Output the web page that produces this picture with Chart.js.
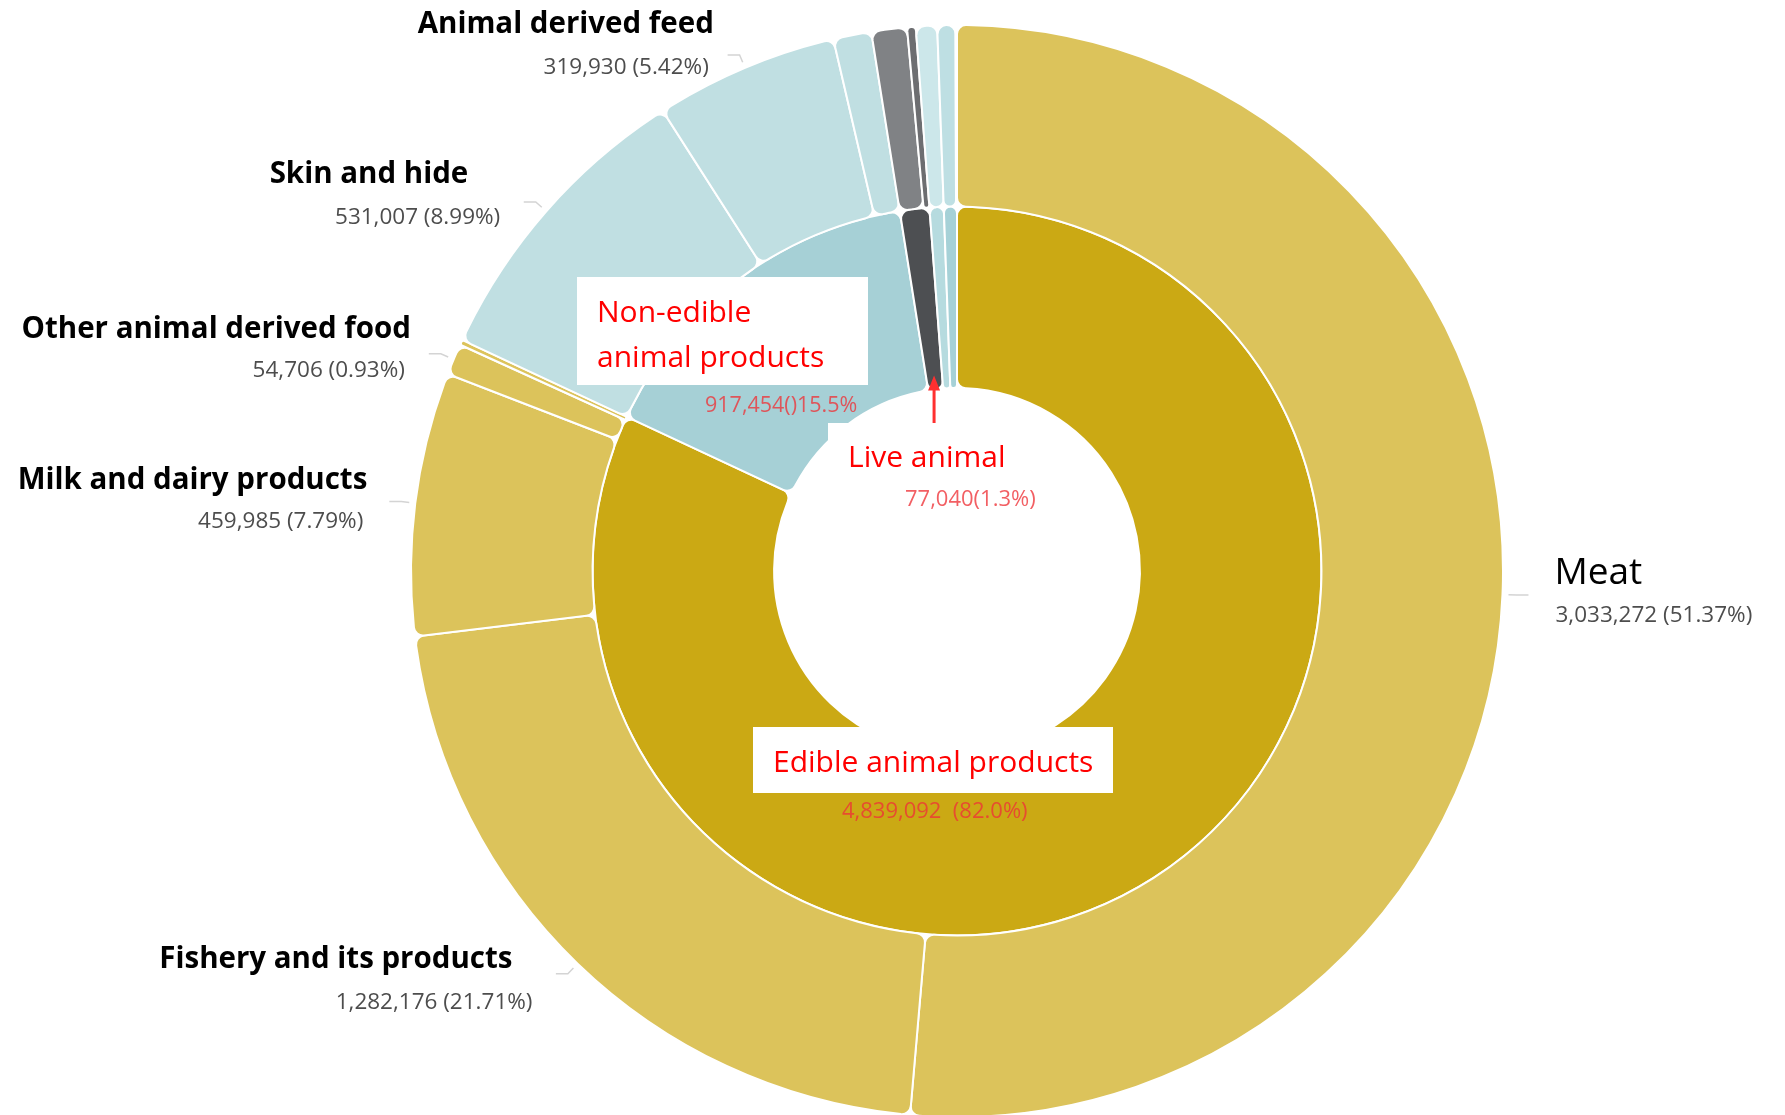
<!DOCTYPE html>
<html>
<head>
<meta charset="utf-8">
<title>Animal products</title>
<script src="https://cdn.jsdelivr.net/npm/chart.js@4.4.1/dist/chart.umd.min.js"></script>
<style>
  html, body { margin: 0; padding: 0; background: #fff; overflow: hidden; }
  #wrap { position: relative; width: 1785px; height: 1120px; }
</style>
</head>
<body>
<div id="wrap"><canvas id="graf-sunburst"></canvas></div>
<script>
// inner ring - groups
const groups = ["Edible animal products", "Non-edible animal products", "Live animal", "Other", "Other (2)"];
const groupValues = [4839092, 917454, 77040, 37000, 34168];
const groupColors = ["#cba914", "#a6d0d6", "#4d4f52", "#b6dbdf", "#a6d1d7"];

// outer ring - products (same order as the groups)
const products = ["Meat", "Fishery and its products", "Milk and dairy products", "Other animal derived food", "Other edible",
  "Skin and hide", "Animal derived feed", "Other non-edible", "Live animal A", "Live animal B", "Other A", "Other B", "Other C"];
const productValues = [3033272, 1282176, 459985, 54706, 8953, 531007, 319930, 66517, 62000, 15040, 37000, 31668, 2500];
const productColors = ["#dcc35b", "#dcc35b", "#dcc35b", "#dcc35b", "#dcc35b",
  "#c0dfe2", "#c0dfe2", "#c0dfe2", "#808285", "#6d6e71", "#cce7ea", "#bedfe3", "#8fa05a"];

// products that get a label outside the ring
const labelled = ["Meat", "Fishery and its products", "Milk and dairy products", "Other animal derived food", "Skin and hide", "Animal derived feed"];

const FONT = "'Open Sans', 'Noto Sans', sans-serif";
const fmt = v => v.toLocaleString("en-US");

document.addEventListener("DOMContentLoaded", () => {
  const total = groupValues.reduce((a, b) => a + b, 0);

  // text offsets from the end of each leader line
  const layout = {
    "Meat": { side: 1, title: [36, -11], value: [37, 27], titleFont: "37px " + FONT },
    "Fishery and its products": { side: -1, title: [-54, -7], value: [-34, 34] },
    "Milk and dairy products": { side: -1, title: [-32, -12], value: [-36, 27] },
    "Other animal derived food": { side: -1, title: [-28, -15], value: [-34, 24] },
    "Skin and hide": { side: -1, title: [-66, -18], value: [-34, 23] },
    "Animal derived feed": { side: -1, title: [-25, -20], value: [-30, 21] }
  };

  const labelsPlugin = {
    id: "labels",
    afterDatasetsDraw(chart) {
      const ctx = chart.ctx;
      const outer = chart.getDatasetMeta(0).data;
      const inner = chart.getDatasetMeta(1).data;
      const cx = outer[0].x, cy = outer[0].y;
      const at = (arc, r) => {
        const m = (arc.startAngle + arc.endAngle) / 2;
        return [cx + r * Math.cos(m), cy + r * Math.sin(m)];
      };
      ctx.save();

      // outer labels with small leader lines
      labelled.forEach(name => {
        const i = products.indexOf(name);
        const arc = outer[i];
        const L = layout[name];
        const p1 = at(arc, arc.outerRadius + 6);
        const p2 = at(arc, arc.outerRadius + 14);
        ctx.strokeStyle = "#d4d4d4";
        ctx.lineWidth = 1.5;
        ctx.beginPath();
        ctx.moveTo(p1[0], p1[1]);
        ctx.lineTo(p2[0], p2[1]);
        ctx.lineTo(p2[0] + 12 * L.side, p2[1]);
        ctx.stroke();

        const a = at(arc, arc.outerRadius + 16);
        ctx.textAlign = L.side > 0 ? "left" : "right";
        ctx.textBaseline = "alphabetic";
        ctx.fillStyle = "#000";
        ctx.font = L.titleFont || "bold 29.5px " + FONT;
        ctx.fillText(name, a[0] + L.title[0], a[1] + L.title[1]);
        ctx.fillStyle = "#4d4d4d";
        ctx.font = "22.5px " + FONT;
        const pct = (productValues[i] / total * 100).toFixed(2);
        ctx.fillText(fmt(productValues[i]) + " (" + pct + "%)", a[0] + L.value[0], a[1] + L.value[1]);
      });

      // annotations on the inner ring
      const red = "#ff0000";
      const lightRed = "rgba(238, 50, 55, 0.78)";
      const pct1 = i => (groupValues[i] / total * 100).toFixed(1);
      ctx.textAlign = "left";

      // non-edible
      ctx.fillStyle = "#fff";
      ctx.fillRect(cx - 380, cy - 294, 291, 108);
      ctx.fillStyle = red;
      ctx.font = "30px " + FONT;
      ctx.fillText("Non-edible", cx - 360, cy - 249);
      ctx.fillText("animal products", cx - 360, cy - 204);
      ctx.fillStyle = lightRed;
      ctx.font = "21.5px " + FONT;
      ctx.fillText(fmt(groupValues[1]) + "()" + pct1(1) + "%", cx - 252, cy - 159);

      // live animal
      ctx.fillStyle = "#fff";
      ctx.fillRect(cx - 129, cy - 148, 192, 62);
      ctx.fillStyle = red;
      ctx.font = "30px " + FONT;
      ctx.fillText("Live animal", cx - 109, cy - 104);
      ctx.fillStyle = lightRed;
      ctx.font = "22px " + FONT;
      ctx.fillText(fmt(groupValues[2]) + "(" + pct1(2) + "%)", cx - 52, cy - 65);

      // arrow to the live animal slice
      const tip = at(inner[2], inner[2].innerRadius + 14);
      ctx.strokeStyle = "#ff3030";
      ctx.fillStyle = "#ff3030";
      ctx.lineWidth = 3;
      ctx.beginPath();
      ctx.moveTo(tip[0], tip[1] + 10);
      ctx.lineTo(tip[0], cy - 148);
      ctx.stroke();
      ctx.beginPath();
      ctx.moveTo(tip[0], tip[1]);
      ctx.lineTo(tip[0] - 6, tip[1] + 15);
      ctx.lineTo(tip[0] + 6, tip[1] + 15);
      ctx.closePath();
      ctx.fill();

      // edible
      ctx.fillStyle = "#fff";
      ctx.fillRect(cx - 204, cy + 156, 360, 66);
      ctx.fillStyle = red;
      ctx.font = "30px " + FONT;
      ctx.fillText("Edible animal products", cx - 184, cy + 201);
      ctx.fillStyle = lightRed;
      ctx.font = "22px " + FONT;
      ctx.fillText(fmt(groupValues[0]) + "  (" + pct1(0) + "%)", cx - 115, cy + 247);

      ctx.restore();
    }
  };

  new Chart(document.getElementById("graf-sunburst"), {
    type: "doughnut",
    data: {
      labels: products,
      datasets: [
        { label: "Products", data: productValues, backgroundColor: productColors, borderColor: "#fff", borderWidth: 2, borderRadius: 9 },
        { label: "Groups", data: groupValues, backgroundColor: groupColors, borderColor: "#fff", borderWidth: 2, borderRadius: 9 }
      ]
    },
    options: {
      responsive: true,
      maintainAspectRatio: false,
      animation: false,
      cutout: "33.5%",
      layout: { padding: { left: 410, right: 281, top: 24, bottom: 2 } },
      plugins: { legend: { display: false }, tooltip: { enabled: false } }
    },
    plugins: [labelsPlugin]
  });
});
</script>
</body>
</html>
